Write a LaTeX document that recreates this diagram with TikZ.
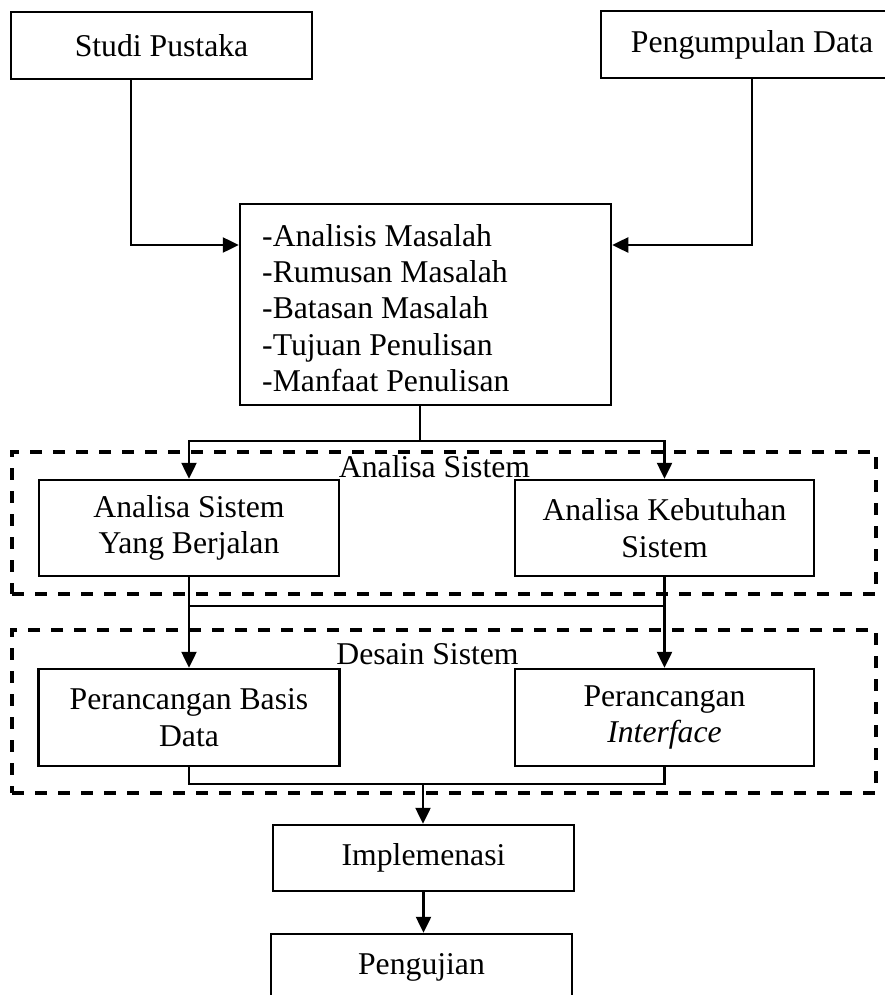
\documentclass[tikz,border=0pt]{standalone}
\usepackage{fontspec}
\setmainfont{Liberation Serif}
\usetikzlibrary{arrows.meta}

\begin{document}
\begin{tikzpicture}[x=1pt, y=-1pt,
  every node/.style={font=\fontsize{31.7}{36.4}\selectfont},
  stepbox/.style={draw, line width=2.5pt, inner sep=0pt, align=center},
  areabox/.style={draw, line width=3.3pt, dash pattern=on 12pt off 11pt, inner sep=0pt},
  link/.style={line width=2.5pt},
  arr/.style={line width=2.5pt, -{Triangle[length=16pt, width=15pt]}}]

\useasboundingbox (0,0) rectangle (885,995);

% top sources
\node[stepbox, minimum width=301pt, minimum height=67pt] (studi) at (161.5,45.5) {Studi Pustaka};
\node[stepbox, minimum width=302pt, minimum height=67pt] (data) at (752,44.5) {Pengumpulan Data};

% problem definition
\node[stepbox, minimum width=371pt, minimum height=201pt] (masalah) at (425.5,304.5) {};
\node[anchor=north west, inner sep=0pt, align=left] (masalahtxt) at (262,224)
  {-Analisis Masalah\\-Rumusan Masalah\\-Batasan Masalah\\-Tujuan Penulisan\\-Manfaat Penulisan};

% system analysis area
\node[areabox, minimum width=864pt, minimum height=142pt] (analisa) at (444,523) {};
\node[anchor=base, inner sep=0pt] (analisalbl) at (434.5,477) {Analisa Sistem};
\node[stepbox, minimum width=300pt, minimum height=96pt] (asb) at (189,528) {Analisa Sistem\\Yang Berjalan};
\node[stepbox, minimum width=299pt, minimum height=96pt] (akb) at (664.5,528) {Analisa Kebutuhan\\Sistem};

% system design area
\node[areabox, minimum width=864pt, minimum height=163pt] (desain) at (444,711.5) {};
\node[anchor=base, inner sep=0pt] (desainlbl) at (427.5,664.5) {Desain Sistem};
\node[stepbox, minimum width=301pt, minimum height=97pt] (pbd) at (189,717.5) {Perancangan Basis\\Data};
\node[stepbox, minimum width=299pt, minimum height=97pt] (pi) at (664.5,717.5) {Perancangan\\\textit{Interface}};

% final steps
\node[stepbox, minimum width=301pt, minimum height=66pt] (impl) at (423.5,858) {Implemenasi};
\node[stepbox, minimum width=301pt, minimum height=66pt] (uji) at (421.5,967) {Pengujian};

% junction points
\coordinate (sx) at (131,245);
\coordinate (dx) at (752,245);
\coordinate (j1) at (420,441);
\coordinate (j2) at (189,606);
\coordinate (j3) at (423,784);

% connectors
\draw[arr] (studi.south -| sx) |- (masalah.west |- sx);
\draw[arr] (data.south -| dx) |- (masalah.east |- dx);

\draw[link] (masalah.south -| j1) -- (j1);
\draw[arr] (j1) -| (asb.north);
\draw[arr] (j1) -| (akb.north);

\draw[arr] (asb.south) -- (pbd.north);
\draw[arr] (akb.south) -- (pi.north);
\draw[link] (asb.south |- j2) -- (akb.south |- j2);

\draw[link] (pbd.south) -- (pbd.south |- j3) -- (pi.south |- j3) -- (pi.south);
\draw[arr] (j3) -- (impl.north -| j3);
\draw[arr] (impl.south) -- (impl.south |- uji.north);

\end{tikzpicture}
\end{document}
